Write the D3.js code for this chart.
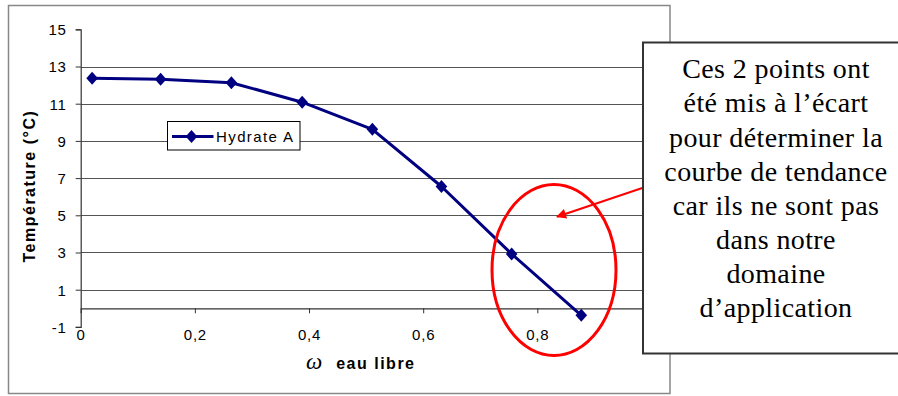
<!DOCTYPE html>
<html><head><meta charset="utf-8">
<script src="https://cdn.jsdelivr.net/npm/d3@7"></script>
<style>
html,body{margin:0;padding:0;background:#fff;}
svg{display:block;}
</style></head>
<body>
<svg id="c" width="898" height="396"></svg>
<script>
// Data
const seriesName = "Hydrate A";
const omegaValues = [0.02, 0.14, 0.264, 0.388, 0.511, 0.632, 0.755, 0.877];
const tempValues  = [12.37, 12.31, 12.13, 11.08, 9.62, 6.55, 2.92, -0.38];
const yTicks = [-1, 1, 3, 5, 7, 9, 11, 13, 15];
const yGrid = [1, 3, 5, 7, 9, 11, 13];
const xTicks = [0, 0.2, 0.4, 0.6, 0.8];
const yTitle = "Température (°C)";
const xTitleSymbol = "ω";
const xTitle = "eau libre";
const noteLines = ["Ces 2 points ont", "été mis à l’écart", "pour déterminer la",
  "courbe de tendance", "car ils ne sont pas", "dans notre", "domaine", "d’application"];

const svg = d3.select("#c");
const sans = "'Liberation Sans', Arial, sans-serif";
const serif = "'Liberation Serif', 'Times New Roman', serif";

const x = d3.scaleLinear().domain([0, 1]).range([80.7, 651.5]);
const y = d3.scaleLinear().domain([-1, 15]).range([326.9, 29.3]);

// outer chart border
svg.append("rect").attr("x", 8.5).attr("y", 5.5).attr("width", 661.5).attr("height", 388)
  .attr("fill", "#fff").attr("stroke", "#888").attr("stroke-width", 1.5);

// gridlines
svg.append("g").selectAll("line").data(yGrid).join("line")
  .attr("x1", x(0)).attr("x2", x(1))
  .attr("y1", d => Math.round(y(d)) + 0.5).attr("y2", d => Math.round(y(d)) + 0.5)
  .attr("stroke", "#555").attr("stroke-width", 1);

// y axis
const yAxis = d3.axisLeft(y).tickValues(yTicks).tickSize(5).tickPadding(9)
  .tickFormat(d => String(d));
const gy = svg.append("g").attr("transform", `translate(${x(0)},0)`).call(yAxis);
gy.select(".domain").attr("stroke", "#333").attr("stroke-width", 1.2);
gy.selectAll(".tick line").attr("stroke", "#333");
gy.selectAll(".tick text").attr("font-family", sans).attr("font-size", 15)
  .attr("fill", "#000").attr("letter-spacing", 0.8).attr("dy", "0.36em");

// x axis at y=0
const xAxis = d3.axisBottom(x).tickValues(xTicks).tickSize(5).tickPadding(16)
  .tickFormat(d => d === 0 ? "0" : d3.format(".1f")(d).replace(".", ","));
const gx = svg.append("g").attr("transform", `translate(0,${y(0)})`).call(xAxis);
gx.select(".domain").attr("stroke", "#333").attr("stroke-width", 1.2);
gx.selectAll(".tick line").attr("stroke", "#333");
gx.selectAll(".tick text").attr("font-family", sans).attr("font-size", 15)
  .attr("fill", "#000").attr("letter-spacing", 0.8);
gx.selectAll(".tick").filter(d => d === 0).select("line").remove();

// axis titles
svg.append("text")
  .attr("transform", `translate(35,${(y(-1) + y(15)) / 2 + 8}) rotate(-90)`)
  .attr("text-anchor", "middle").attr("font-family", sans).attr("font-weight", "bold")
  .attr("font-size", 16).attr("letter-spacing", 1.5).text(yTitle);
const xt = svg.append("text").attr("x", 306).attr("y", 369).attr("font-size", 16);
xt.append("tspan").attr("font-family", serif).attr("font-style", "italic").attr("font-size", 23).text(xTitleSymbol);
xt.append("tspan").attr("dx", 8).attr("font-family", sans).attr("font-weight", "bold")
  .attr("letter-spacing", 1.5).text(" " + xTitle);

// series
const pts = omegaValues.map((v, i) => [v, tempValues[i]]);
const navy = "#000080";
svg.append("path").datum(pts)
  .attr("d", d3.line().x(d => x(d[0])).y(d => y(d[1])))
  .attr("fill", "none").attr("stroke", navy).attr("stroke-width", 3).attr("stroke-linejoin", "round");
const diamond = "M0,-6.5L5.8,0L0,6.5L-5.8,0Z";
svg.append("g").selectAll("path").data(pts).join("path")
  .attr("d", diamond).attr("transform", d => `translate(${x(d[0])},${y(d[1])})`)
  .attr("fill", navy);

// legend
const lg = svg.append("g").attr("transform", "translate(167.5,121.5)");
lg.append("rect").attr("width", 132.5).attr("height", 28.5).attr("fill", "#fff").attr("stroke", "#000");
lg.append("line").attr("x1", 4.5).attr("x2", 46).attr("y1", 15).attr("y2", 15)
  .attr("stroke", navy).attr("stroke-width", 3);
lg.append("path").attr("d", diamond).attr("transform", "translate(24,15)").attr("fill", navy);
lg.append("text").attr("x", 48.5).attr("y", 20.5).attr("font-family", sans).attr("font-size", 15)
  .attr("letter-spacing", 1.4).text(seriesName);

// red ellipse
svg.append("ellipse").attr("cx", 554).attr("cy", 270).attr("rx", 62).attr("ry", 85.5)
  .attr("fill", "none").attr("stroke", "#ff0000").attr("stroke-width", 3);

// arrow
svg.append("defs").append("marker").attr("id", "ah")
  .attr("viewBox", "0 0 10 10").attr("refX", 9).attr("refY", 5)
  .attr("markerWidth", 6).attr("markerHeight", 5).attr("orient", "auto").attr("markerUnits", "strokeWidth")
  .append("path").attr("d", "M0,0L10,5L0,10Z").attr("fill", "#ff0000");
svg.append("line").attr("x1", 643).attr("y1", 187.7).attr("x2", 557).attr("y2", 216.7)
  .attr("stroke", "#ff0000").attr("stroke-width", 2).attr("marker-end", "url(#ah)");

// note box
svg.append("rect").attr("x", 643).attr("y", 42.5).attr("width", 270).attr("height", 311)
  .attr("fill", "#fff").attr("stroke", "#333").attr("stroke-width", 2);
svg.append("g").selectAll("text").data(noteLines).join("text")
  .attr("x", 776).attr("y", (d, i) => 78.3 + 34.1 * i)
  .attr("text-anchor", "middle").attr("font-family", serif).attr("font-size", 28)
  .attr("letter-spacing", 0.4).attr("fill", "#000").text(d => d);
</script>
</body></html>
